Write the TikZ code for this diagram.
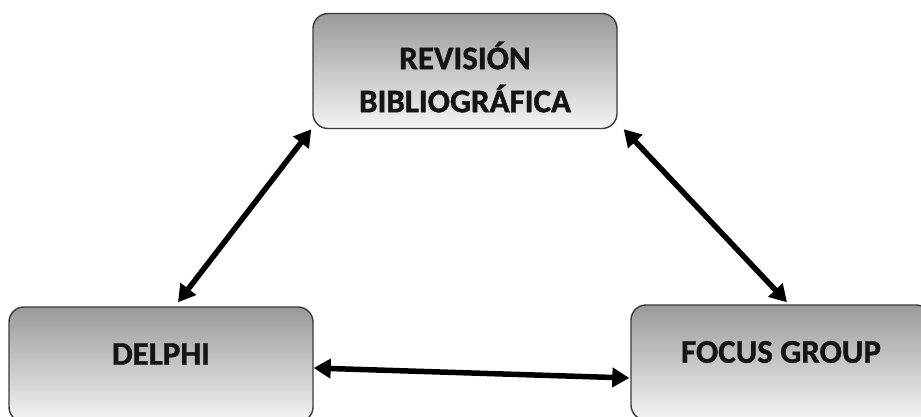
\documentclass[tikz,border=0pt]{standalone}
\usepackage{fontspec}
\setmainfont[BoldFeatures={FakeBold=1.2}]{Carlito}
\usetikzlibrary{arrows.meta,calc}
\definecolor{boxtop}{HTML}{9A9A9A}
\definecolor{boxbot}{HTML}{F4F4F4}
\definecolor{boxline}{HTML}{3A3A3A}
\definecolor{txt}{HTML}{151515}
\tikzset{
  stagebox/.style={rectangle, rounded corners=15pt, draw=boxline, line width=1.4pt,
    top color=boxtop, bottom color=boxbot, minimum width=#1, minimum height=115pt, inner sep=0pt},
  stagetext/.style={text=txt, font=\fontsize{33}{43}\selectfont\bfseries, align=center, inner sep=0pt},
  link/.style={line width=5.5pt, {Triangle[length=17pt,width=19pt]}-{Triangle[length=17pt,width=19pt]}}
}
\begin{document}
\begin{tikzpicture}[x=1pt,y=-1pt]
\useasboundingbox (0,0) rectangle (921,417);
\clip (0,0) rectangle (921,417);
\node[stagebox=304pt] (rev) at (465,71) {};
\node[stagebox=304pt] (del) at (161,364.5) {};
\node[stagebox=300pt] (foc) at (781,362.5) {};
\node[stagetext] (revt) at (465,77) {REVISIÓN\\BIBLIOGRÁFICA};
\node[stagetext] (delt) at (161,354) {DELPHI};
\node[stagetext] (foct) at (781,352) {FOCUS GROUP};
\draw[link] ($(rev.south west)+(-1,0)$) -- ($(del.north)+(17,-4)$);
\draw[link] ($(rev.south east)+(6,0)$) -- ($(foc.north)+(6,-2)$);
\draw[link] ($(del.east)+(0,3.5)$) -- ($(foc.west)+(-1,15.5)$);
\end{tikzpicture}
\end{document}
